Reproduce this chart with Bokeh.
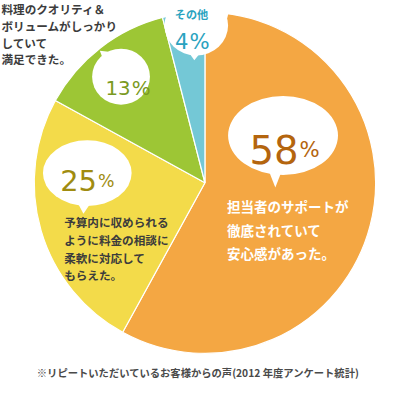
import math
from bokeh.plotting import figure
from bokeh.models import Range1d
from bokeh.embed import file_html
from bokeh.resources import INLINE
from bokeh.core.properties import value

# ---------------- data ----------------
categories = ["担当者のサポート", "料金の相談", "料理のクオリティ", "その他"]
percents = [58, 25, 13, 4]
slice_colors = ["#F4A743", "#F3DB4A", "#9DC635", "#74C8D6"]
pct_colors = ["#B4650E", "#A08C10", "#7A9A22", "#2AA3C0"]
comments = [
    ["担当者のサポートが", "徹底されていて", "安心感があった。"],
    ["予算内に収められる", "ように料金の相談に", "柔軟に対応して", "もらえた。"],
    ["料理のクオリティ＆", "ボリュームがしっかり", "していて", "満足できた。"],
]
other_label = "その他"
footnote = "※リピートいただいているお客様からの声(2012 年度アンケート統計)"

# ---------------- layout ----------------
W, H = 378, 379
X0, X1 = 2, 394
YTOP = 395
S = W / (X1 - X0)          # px per unit
def Y(y):                  # reference (top-down) -> data (bottom-up)
    return YTOP - y
def fs(px):
    return f"{px * S:.1f}px"

JP = value("Noto Sans CJK JP")
NUM = value("DejaVu Sans")

p = figure(width=W, height=H, output_backend="svg", toolbar_location=None,
           x_range=Range1d(X0, X1), y_range=Range1d(0, YTOP - 2),
           min_border=0, outline_line_color=None)
p.axis.visible = False
p.grid.visible = False
p.background_fill_color = "white"
p.border_fill_color = "white"

# pie
cx, cy, r = 214, 191, 177
total = sum(percents)
starts, ends = [], []
acc = 0
for v in percents:
    starts.append(math.pi / 2 - 2 * math.pi * acc / total)
    acc += v
    ends.append(math.pi / 2 - 2 * math.pi * acc / total)
p.wedge(x=[cx] * 4, y=[Y(cy)] * 4, radius=r, start_angle=starts, end_angle=ends,
        direction="clock", fill_color=slice_colors, line_color="white", line_width=1.2)

# speech bubbles (white)
bx = [295, 92, 127, 205]
by = [142, 181, 81, 28]
bw = [114, 92, 60, 66]
bh = [82, 68, 58, 62]
p.ellipse(x=bx, y=[Y(v) for v in by], width=bw, height=bh,
          fill_color="white", line_color=None)
tails_x = [[280, 294, 287], [81, 97, 88], [110, 121, 105], [196, 211, 203], [226, 232, 239]]
tails_y = [[178, 178, 196], [210, 210, 223], [67, 56, 54], [54, 54, 64], [8, 40, 13]]
p.patches(xs=tails_x, ys=[[Y(v) for v in t] for t in tails_y],
          fill_color="white", line_color=None)

# percent numbers
num_x = [311, 102, 137, 197]
num_base = [157, 189, 93, 44]
num_fs = [40, 30, 20.5, 22]
pc_fs = [22, 18, 20.5, 22]
for i in range(4):
    p.text(x=[num_x[i]], y=[Y(num_base[i])], text=[str(percents[i])],
           text_align="right", text_baseline="alphabetic", text_font=NUM,
           text_font_size=fs(num_fs[i]), text_color=pct_colors[i])
    p.text(x=[num_x[i] + 1], y=[Y(num_base[i])], text=["%"],
           text_align="left", text_baseline="alphabetic", text_font=NUM,
           text_font_size=fs(pc_fs[i]), text_color=pct_colors[i])

p.text(x=[200], y=[Y(16)], text=[other_label], text_align="center",
       text_baseline="middle", text_font=JP, text_font_style="bold",
       text_font_size=fs(11.5), text_color=pct_colors[3])

# comments
c_x = [237, 68, 3]
c_y0 = [215, 232, 11]
c_dy = [24.5, 18.3, 17.3]
c_fs = [14, 12, 12]
c_col = ["white", "#3C3C3C", "#3C3C3C"]
for i, lines in enumerate(comments):
    ys = [Y(c_y0[i] + k * c_dy[i]) for k in range(len(lines))]
    p.text(x=[c_x[i]] * len(lines), y=ys, text=lines, text_align="left",
           text_baseline="middle", text_font=JP, text_font_style="bold",
           text_font_size=fs(c_fs[i]), text_color=c_col[i])

p.text(x=[207], y=[Y(388)], text=[footnote], text_align="center",
       text_baseline="middle", text_font=JP, text_font_style="bold",
       text_font_size=fs(10.7), text_color="#4A4A4A")

open("out.html", "w").write(file_html(p, INLINE))
